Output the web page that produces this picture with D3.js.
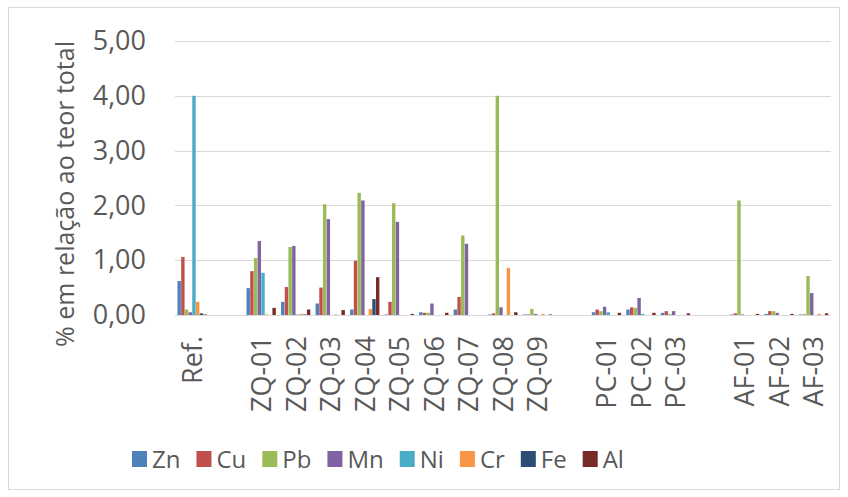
<!DOCTYPE html>
<html>
<head>
<meta charset="utf-8">
<script src="https://cdn.jsdelivr.net/npm/d3@7"></script>
<style>
  html, body { margin: 0; padding: 0; background: #fff; }
  svg { display: block; }
  text { font-family: "Open Sans", "Noto Sans", sans-serif; fill: #595959; }
</style>
</head>
<body>
<svg id="chart" width="848" height="497"></svg>
<script>
// ---- data ----
const categories = ["Ref.", "", "ZQ-01", "ZQ-02", "ZQ-03", "ZQ-04", "ZQ-05", "ZQ-06", "ZQ-07", "ZQ-08", "ZQ-09", "", "PC-01", "PC-02", "PC-03", "", "AF-01", "AF-02", "AF-03"];
const seriesNames = ["Zn", "Cu", "Pb", "Mn", "Ni", "Cr", "Fe", "Al"];
const Zn = [0.62, null, 0.49, 0.24, 0.21, 0.10, 0.01, 0.05, 0.10, 0.01, 0.01, null, 0.05, 0.10, 0.04, null, 0.01, 0.02, 0.01];
const Cu = [1.06, null, 0.80, 0.51, 0.50, 0.99, 0.24, 0.04, 0.33, 0.03, 0.01, null, 0.10, 0.14, 0.07, null, 0.03, 0.07, 0.01];
const Pb = [0.10, null, 1.04, 1.24, 2.02, 2.23, 2.04, 0.04, 1.45, 4.00, 0.11, null, 0.07, 0.13, 0.02, null, 2.09, 0.07, 0.71];
const Mn = [0.05, null, 1.35, 1.26, 1.75, 2.09, 1.70, 0.21, 1.30, 0.14, 0.02, null, 0.15, 0.31, 0.07, null, 0.01, 0.04, 0.40];
const Ni = [4.00, null, 0.77, 0.01, 0.00, 0.00, 0.00, 0.00, 0.00, 0.00, 0.00, null, 0.05, 0.02, 0.00, null, 0.00, 0.00, 0.00];
const Cr = [0.24, null, 0.01, 0.02, 0.01, 0.11, 0.00, 0.00, 0.00, 0.86, 0.02, null, 0.00, 0.00, 0.00, null, 0.00, 0.00, 0.02];
const Fe = [0.03, null, 0.00, 0.01, 0.00, 0.29, 0.00, 0.00, 0.00, 0.00, 0.00, null, 0.00, 0.00, 0.00, null, 0.00, 0.00, 0.00];
const Al = [0.01, null, 0.13, 0.10, 0.09, 0.69, 0.02, 0.04, 0.00, 0.05, 0.01, null, 0.04, 0.04, 0.03, null, 0.02, 0.02, 0.03];
const colors = ["#4F81BD", "#C0504D", "#9BBB59", "#8064A2", "#4BACC6", "#F79646", "#2C4D75", "#772C2A"];
const yTicks = [0, 1, 2, 3, 4, 5];
const yTitle = "% em relação ao teor total";

const seriesValues = [Zn, Cu, Pb, Mn, Ni, Cr, Fe, Al];
const series = seriesNames.map((n, i) => ({ name: n, values: seriesValues[i], color: colors[i] }));

// ---- layout ----
const W = 848, H = 497;
const plot = { left: 175, right: 831, top: 41, bottom: 315 };
const svg = d3.select("#chart");

svg.append("rect")
  .attr("x", 8.5).attr("y", 7.5).attr("width", 831).attr("height", 482)
  .attr("fill", "#fff").attr("stroke", "#d9d9d9").attr("stroke-width", 1);

const idx = categories.map((c, i) => i);
const x0 = d3.scaleBand().domain(idx).range([plot.left, plot.right])
  .paddingInner(0.143).paddingOuter(0.0715);
const x1 = d3.scaleBand().domain(seriesNames).range([0, x0.bandwidth()]).padding(0);
const y = d3.scaleLinear().domain([0, 5]).range([plot.bottom, plot.top]);

// gridlines
svg.append("g").selectAll("line").data(yTicks).join("line")
  .attr("x1", plot.left).attr("x2", plot.right)
  .attr("y1", d => Math.round(y(d)) + 0.5).attr("y2", d => Math.round(y(d)) + 0.5)
  .attr("stroke", "#d9d9d9").attr("stroke-width", 1.2);

// y axis labels
const yAxis = d3.axisLeft(y).tickValues(yTicks).tickSize(0).tickPadding(0)
  .tickFormat(d => d3.format(".2f")(d).replace(".", ","));
const gy = svg.append("g").attr("transform", `translate(146,0)`).call(yAxis);
gy.select(".domain").remove();
gy.selectAll("text").style("font-size", "27px").attr("fill", "#595959")
  .style("font-family", '"Open Sans", sans-serif');

// bars
const groups = svg.append("g").selectAll("g").data(series).join("g")
  .attr("fill", d => d.color);
groups.selectAll("rect")
  .data(s => s.values.map((v, i) => ({ s: s.name, i, v })).filter(d => d.v !== null))
  .join("rect")
  .attr("x", d => x0(d.i) + x1(d.s))
  .attr("width", x1.bandwidth() - 0.3)
  .attr("y", d => y(d.v))
  .attr("height", d => y(0) - y(d.v));

// x axis labels
const xAxis = d3.axisBottom(x0).tickSize(0).tickPadding(0).tickFormat(i => categories[i]);
const gx = svg.append("g").attr("transform", `translate(0,${plot.bottom})`).call(xAxis);
gx.select(".domain").remove();
gx.selectAll("text")
  .style("font-size", "27px").attr("fill", "#595959")
  .style("font-family", '"Open Sans", sans-serif')
  .attr("text-anchor", "end")
  .attr("transform", "rotate(-90)")
  .attr("x", -21).attr("y", 0).attr("dy", "0.36em");

// y title
svg.append("text")
  .attr("transform", `translate(74,194) rotate(-90)`)
  .attr("text-anchor", "middle")
  .style("font-size", "25px")
  .text(yTitle);

// legend
const legend = svg.append("g").attr("transform", "translate(0,459)");
let lx = 132;
series.forEach(s => {
  const g = legend.append("g").attr("transform", `translate(${lx},0)`);
  g.append("rect").attr("x", 0).attr("y", -8).attr("width", 15).attr("height", 16).attr("fill", s.color);
  const t = g.append("text").attr("x", 20).attr("y", 0).attr("dy", "0.36em")
    .style("font-size", "24px").text(s.name);
  lx += 20 + t.node().getComputedTextLength() + 16;
});
</script>
</body>
</html>
